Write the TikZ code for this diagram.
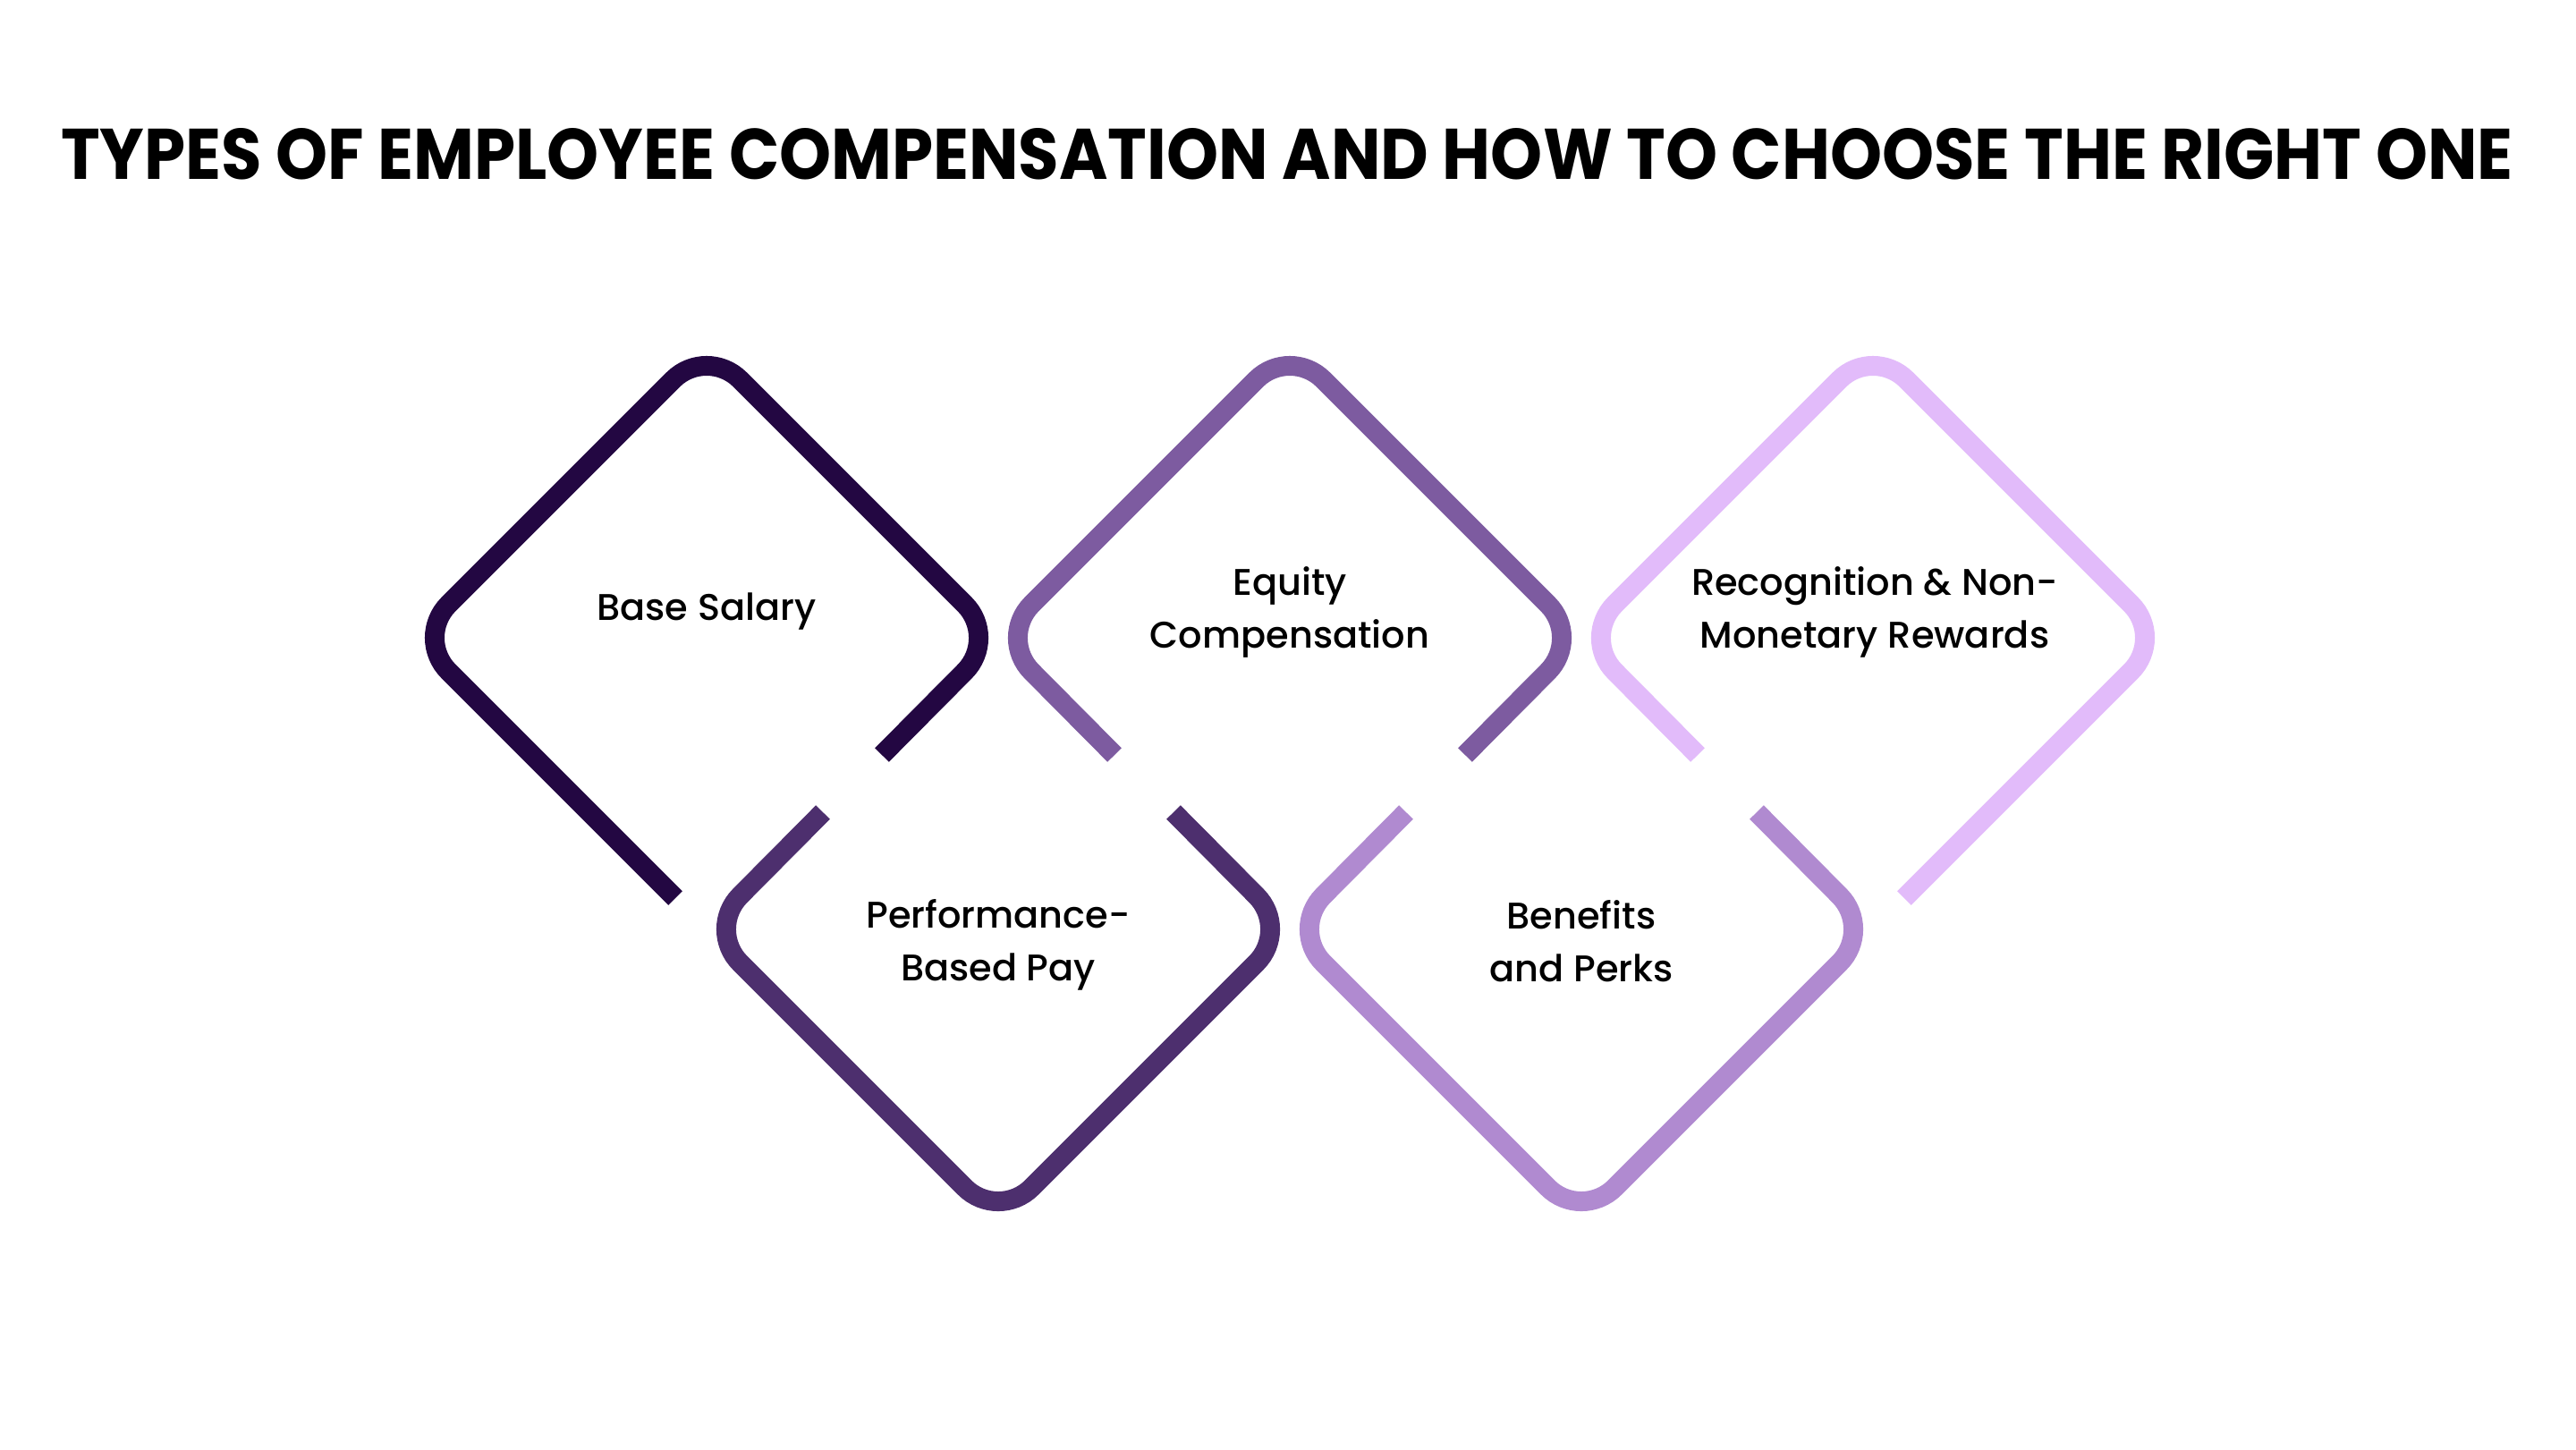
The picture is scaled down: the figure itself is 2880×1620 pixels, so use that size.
\documentclass[tikz,border=0pt]{standalone}
\usepackage{fontspec}
\setmainfont{Poppins}
\newfontfamily\labelfont{Poppins Medium}
\usepackage{tikz}
\pgfdeclarelayer{bglayer}
\pgfdeclarelayer{nodelayer}
\pgfdeclarelayer{edgelayer}
\pgfsetlayers{bglayer,edgelayer,nodelayer,main}
\definecolor{rimA}{RGB}{35,7,66}
\definecolor{rimB}{RGB}{77,47,110}
\definecolor{rimC}{RGB}{125,91,160}
\definecolor{rimD}{RGB}{176,138,208}
\definecolor{rimE}{RGB}{226,187,250}
\tikzstyle{none}=[inner sep=0pt, minimum size=0pt]
\tikzset{rim/.style={line width=0.22cm, rounded corners=0.53cm}}
\tikzset{itemtext/.style={inner sep=0pt, align=center,
font=\labelfont\fontsize{11.8pt}{16.8pt}\selectfont}}
\tikzset{headline/.style={inner sep=0pt, anchor=base}}

\begin{document}
\begin{tikzpicture}[x=0.01cm, y=-0.01cm]
			\begin{pgfonlayer}{bglayer}
				\fill [white] (0, 0) rectangle (2880, 1620);
				\useasboundingbox (0, 0) rectangle (2880, 1620);
			\end{pgfonlayer}
			\begin{pgfonlayer}{nodelayer}
				% corners of the five frames
				\node [style=none] (0) at (755, 1004) {};
				\node [style=none] (1) at (464, 713) {};
				\node [style=none] (2) at (790, 387) {};
				\node [style=none] (3) at (1116, 713) {};
				\node [style=none] (4) at (986, 844) {};
				\node [style=none] (5) at (920, 908) {};
				\node [style=none] (6) at (790, 1039) {};
				\node [style=none] (7) at (1116, 1365) {};
				\node [style=none] (8) at (1442, 1039) {};
				\node [style=none] (9) at (1312, 908) {};
				\node [style=none] (10) at (1246, 844) {};
				\node [style=none] (11) at (1116, 713) {};
				\node [style=none] (12) at (1442, 387) {};
				\node [style=none] (13) at (1768, 713) {};
				\node [style=none] (14) at (1638, 844) {};
				\node [style=none] (15) at (1572, 908) {};
				\node [style=none] (16) at (1442, 1039) {};
				\node [style=none] (17) at (1768, 1365) {};
				\node [style=none] (18) at (2094, 1039) {};
				\node [style=none] (19) at (1964, 908) {};
				\node [style=none] (20) at (1898, 844) {};
				\node [style=none] (21) at (1768, 713) {};
				\node [style=none] (22) at (2094, 387) {};
				\node [style=none] (23) at (2420, 713) {};
				\node [style=none] (24) at (2129, 1004) {};
				% texts
				\node [style=headline] (25) at (1439, 200) {\resizebox{27.4cm}{0.57cm}{\bfseries TYPES OF EMPLOYEE COMPENSATION AND HOW TO CHOOSE THE RIGHT ONE}};
				\node [style=itemtext] (26) at (790, 684) {Base Salary};
				\node [style=itemtext] (27) at (1116, 1056) {Performance-\\Based Pay};
				\node [style=itemtext] (28) at (1442, 684) {Equity\\Compensation};
				\node [style=itemtext] (29) at (1768, 1052) {Benefits\\and Perks};
				\node [style=itemtext] (30) at (2096, 684) {Recognition \& Non-\\Monetary Rewards};
			\end{pgfonlayer}
			\begin{pgfonlayer}{edgelayer}
				\draw [style=rim, draw=rimA] (0.center) -- (1.center) -- (2.center) -- (3.center) -- (4.center);
				\draw [style=rim, draw=rimB] (5.center) -- (6.center) -- (7.center) -- (8.center) -- (9.center);
				\draw [style=rim, draw=rimC] (10.center) -- (11.center) -- (12.center) -- (13.center) -- (14.center);
				\draw [style=rim, draw=rimD] (15.center) -- (16.center) -- (17.center) -- (18.center) -- (19.center);
				\draw [style=rim, draw=rimE] (20.center) -- (21.center) -- (22.center) -- (23.center) -- (24.center);
			\end{pgfonlayer}
\end{tikzpicture}
\end{document}
